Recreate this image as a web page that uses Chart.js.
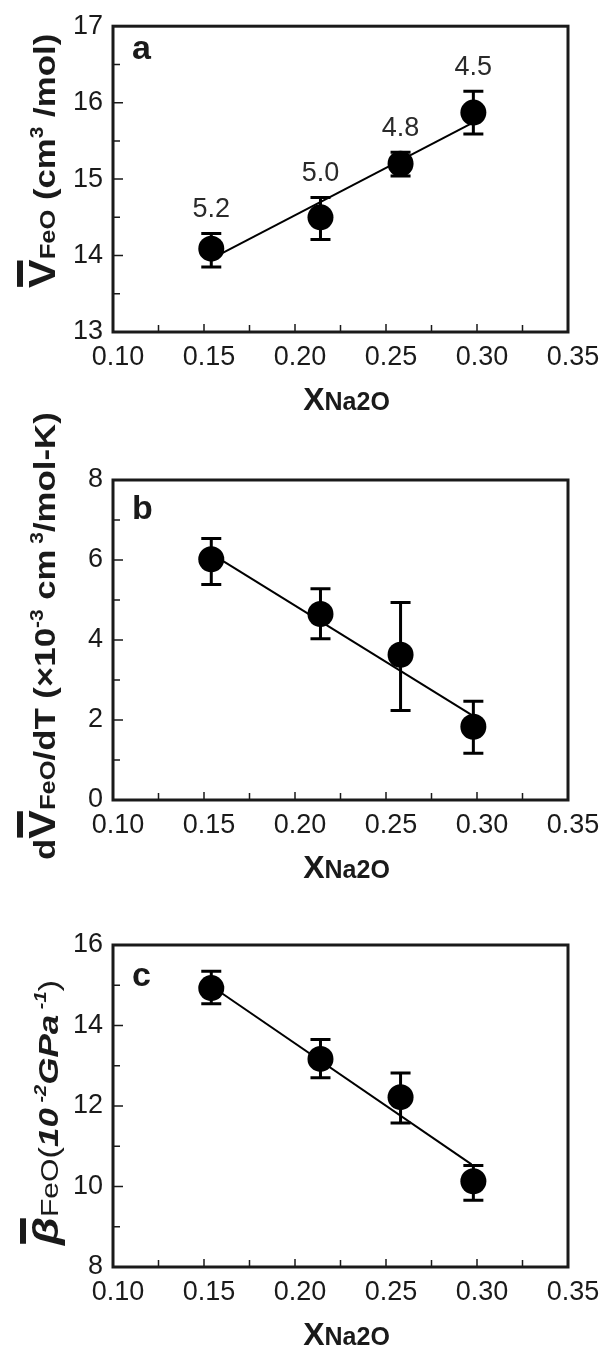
<!DOCTYPE html>
<html>
<head>
<meta charset="utf-8">
<script src="https://cdn.jsdelivr.net/npm/chart.js@4.4.1/dist/chart.umd.min.js"></script>
<style>
  body { margin: 0; background: #fff; }
  #wrap { position: relative; width: 608px; height: 1350px; }
  canvas { position: absolute; left: 0; }
</style>
</head>
<body>
<div id="wrap">
  <canvas id="chartA" width="608" height="420" style="top:0"></canvas>
  <canvas id="chartB" width="608" height="475" style="top:405px"></canvas>
  <canvas id="chartC" width="608" height="470" style="top:880px"></canvas>
</div>
<script>
// shared x values (mole fraction Na2O)
const xNa2O = [0.154, 0.214, 0.258, 0.298];
const fitX = [0.155, 0.297];

// panel a: partial molar volume of FeO
const volFeO = [14.09, 14.50, 15.20, 15.87];
const volErrUp = [0.20, 0.26, 0.15, 0.28];
const volErrDown = [0.24, 0.29, 0.16, 0.28];
const volNotes = ['5.2', '5.0', '4.8', '4.5'];
const volFitY = [13.97, 15.73];

// panel b: dV/dT
const dvdtFeO = [6.02, 4.65, 3.63, 1.83];
const dvdtErrUp = [0.52, 0.63, 1.31, 0.64];
const dvdtErrDown = [0.63, 0.62, 1.39, 0.66];
const dvdtFitY = [6.13, 2.13];

// panel c: compressibility
const betaFeO = [14.93, 13.17, 12.22, 10.13];
const betaErrUp = [0.42, 0.48, 0.60, 0.39];
const betaErrDown = [0.39, 0.47, 0.64, 0.47];
const betaFitY = [14.95, 10.55];

const FONT = "'Liberation Sans', Arial, sans-serif";
const INK = '#1a1a1a';

// draw a rotated (bottom-to-top) title made of several styled runs
function drawRuns(ctx, x, y, runs, stretch) {
    ctx.save();
    ctx.translate(x, y);
    ctx.rotate(-Math.PI / 2);
    ctx.scale(stretch, 1);
    ctx.fillStyle = INK;
    ctx.textAlign = 'left';
    ctx.textBaseline = 'alphabetic';
    let pos = 0;
    runs.forEach(r => {
        ctx.font = r.font;
        const w = ctx.measureText(r.text).width;
        ctx.fillText(r.text, pos, r.dy || 0);
        if (r.bar) ctx.fillRect(pos + 1, -38, w - 2, 6);
        pos += w;
    });
    ctx.restore();
}

function makeDecor(cfg) {
    return {
        id: 'decor',
        afterDatasetsDraw(chart) {
            const ctx = chart.ctx;
            const { left, right, top, bottom } = chart.chartArea;
            const xs = chart.scales.x, ys = chart.scales.y;
            ctx.save();

            // error bars
            ctx.strokeStyle = '#000';
            ctx.lineWidth = 3;
            cfg.values.forEach((v, i) => {
                const px = xs.getPixelForValue(xNa2O[i]);
                const yTop = ys.getPixelForValue(v + cfg.errUp[i]);
                const yBot = ys.getPixelForValue(v - cfg.errDown[i]);
                ctx.beginPath();
                ctx.moveTo(px, yTop); ctx.lineTo(px, yBot);
                ctx.moveTo(px - 10, yTop); ctx.lineTo(px + 10, yTop);
                ctx.moveTo(px - 10, yBot); ctx.lineTo(px + 10, yBot);
                ctx.stroke();
            });

            // notes above points
            if (cfg.notes) {
                ctx.fillStyle = '#2a2a2a';
                ctx.font = '27px ' + FONT;
                ctx.textAlign = 'center';
                ctx.textBaseline = 'alphabetic';
                cfg.notes.forEach((t, i) => {
                    const px = xs.getPixelForValue(xNa2O[i]);
                    const yTop = ys.getPixelForValue(cfg.values[i] + cfg.errUp[i]);
                    ctx.fillText(t, px, yTop - 16);
                });
            }

            // inward ticks, major and minor
            ctx.strokeStyle = INK;
            ctx.lineWidth = 1.5;
            ctx.beginPath();
            const xt = xs.ticks.map(t => t.value);
            xt.forEach((v, i) => {
                const p = xs.getPixelForValue(v);
                ctx.moveTo(p, bottom); ctx.lineTo(p, bottom - 8);
                if (i < xt.length - 1) {
                    const m = xs.getPixelForValue((v + xt[i + 1]) / 2);
                    ctx.moveTo(m, bottom); ctx.lineTo(m, bottom - 7);
                }
            });
            const yt = ys.ticks.map(t => t.value);
            yt.forEach((v, i) => {
                const p = ys.getPixelForValue(v);
                ctx.moveTo(left, p); ctx.lineTo(left + 10, p);
                if (i < yt.length - 1) {
                    const m = ys.getPixelForValue((v + yt[i + 1]) / 2);
                    ctx.moveTo(left, m); ctx.lineTo(left + 7, m);
                }
            });
            ctx.stroke();

            // frame
            ctx.lineWidth = 3;
            ctx.strokeRect(left, top, right - left, bottom - top);

            // panel letter
            ctx.fillStyle = INK;
            ctx.font = 'bold 34px ' + FONT;
            ctx.textAlign = 'left';
            ctx.fillText(cfg.letter, left + 19, top + cfg.letterDrop);

            // x title: X + Na2O
            const cx = (left + right) / 2 + 6;
            const by = bottom + 78;
            ctx.font = 'bold 32px ' + FONT;
            const w1 = ctx.measureText('X').width;
            ctx.font = 'bold 25px ' + FONT;
            const w2 = ctx.measureText('Na2O').width;
            const sx = cx - (w1 + w2) / 2;
            ctx.font = 'bold 32px ' + FONT;
            ctx.fillText('X', sx, by);
            ctx.font = 'bold 25px ' + FONT;
            ctx.fillText('Na2O', sx + w1, by);

            // y title
            drawRuns(ctx, cfg.titleX, cfg.titleY, cfg.titleRuns, cfg.stretch);
            ctx.restore();
        }
    };
}

function buildChart(id, cfg) {
    const points = cfg.values.map((v, i) => ({ x: xNa2O[i], y: v }));
    const fit = fitX.map((x, i) => ({ x: x, y: cfg.fitY[i] }));
    const canvas = document.getElementById(id);
    return new Chart(canvas, {
        type: 'scatter',
        data: {
            datasets: [
                { data: points, pointRadius: 13, pointBackgroundColor: '#000', pointBorderWidth: 0, order: 0 },
                { type: 'line', data: fit, borderColor: '#000', borderWidth: 2, pointRadius: 0, fill: false, order: 1 }
            ]
        },
        options: {
            responsive: false,
            animation: false,
            layout: { padding: { top: cfg.padTop, right: 40, left: 0, bottom: 0 } },
            plugins: { legend: { display: false }, tooltip: { enabled: false } },
            scales: {
                x: {
                    type: 'linear', min: 0.10, max: 0.35,
                    afterFit: s => { s.height = canvas.height - cfg.plotBottom; },
                    grid: { display: false, drawTicks: false },
                    border: { display: false },
                    ticks: {
                        stepSize: 0.05, autoSkip: false, maxRotation: 0,
                        callback: v => v.toFixed(2),
                        padding: 9, labelOffset: 5,
                        color: INK, font: { size: 27, family: FONT }
                    }
                },
                y: {
                    type: 'linear', min: cfg.yMin, max: cfg.yMax,
                    afterFit: s => { s.width = 113; },
                    grid: { display: false, drawTicks: false },
                    border: { display: false },
                    ticks: {
                        stepSize: cfg.yStep, padding: 10,
                        color: INK, font: { size: 27, family: FONT }
                    }
                }
            }
        },
        plugins: [makeDecor(cfg)]
    });
}

const B = 'bold ';
buildChart('chartA', {
    values: volFeO, errUp: volErrUp, errDown: volErrDown, notes: volNotes, fitY: volFitY,
    yMin: 13, yMax: 17, yStep: 1, padTop: 15, plotBottom: 332, letter: 'a', letterDrop: 33,
    titleX: 55, titleY: 288, stretch: 1.16,
    titleRuns: [
        { text: 'V', font: B + '37px ' + FONT, bar: true },
        { text: 'FeO', font: B + '22px ' + FONT },
        { text: ' (cm', font: B + '30px ' + FONT },
        { text: '3', font: B + '18px ' + FONT, dy: -12 },
        { text: ' /mol)', font: B + '30px ' + FONT }
    ]
});

buildChart('chartB', {
    values: dvdtFeO, errUp: dvdtErrUp, errDown: dvdtErrDown, fitY: dvdtFitY,
    yMin: 0, yMax: 8, yStep: 2, padTop: 75, plotBottom: 395, letter: 'b', letterDrop: 39,
    titleX: 55, titleY: 455, stretch: 1.16,
    titleRuns: [
        { text: 'd', font: B + '30px ' + FONT },
        { text: 'V', font: B + '37px ' + FONT, bar: true },
        { text: 'FeO', font: B + '22px ' + FONT },
        { text: '/dT (\u00d710', font: B + '30px ' + FONT },
        { text: '-3', font: B + '18px ' + FONT, dy: -12 },
        { text: ' cm', font: B + '30px ' + FONT },
        { text: ' 3', font: B + '18px ' + FONT, dy: -12 },
        { text: '/mol-K)', font: B + '30px ' + FONT }
    ]
});

buildChart('chartC', {
    values: betaFeO, errUp: betaErrUp, errDown: betaErrDown, fitY: betaFitY,
    yMin: 8, yMax: 16, yStep: 2, padTop: 65, plotBottom: 387, letter: 'c', letterDrop: 41,
    titleX: 58, titleY: 365, stretch: 1.25,
    titleRuns: [
        { text: '\u03b2', font: 'italic bold 36px ' + FONT, bar: true },
        { text: 'FeO', font: '24px ' + FONT },
        { text: '(', font: '28px ' + FONT },
        { text: '10', font: 'italic bold 28px ' + FONT },
        { text: ' -2', font: 'italic bold 16px ' + FONT, dy: -12 },
        { text: 'GPa', font: 'italic bold 28px ' + FONT },
        { text: ' -1', font: 'italic bold 16px ' + FONT, dy: -12 },
        { text: ')', font: '28px ' + FONT }
    ]
});
</script>
</body>
</html>
